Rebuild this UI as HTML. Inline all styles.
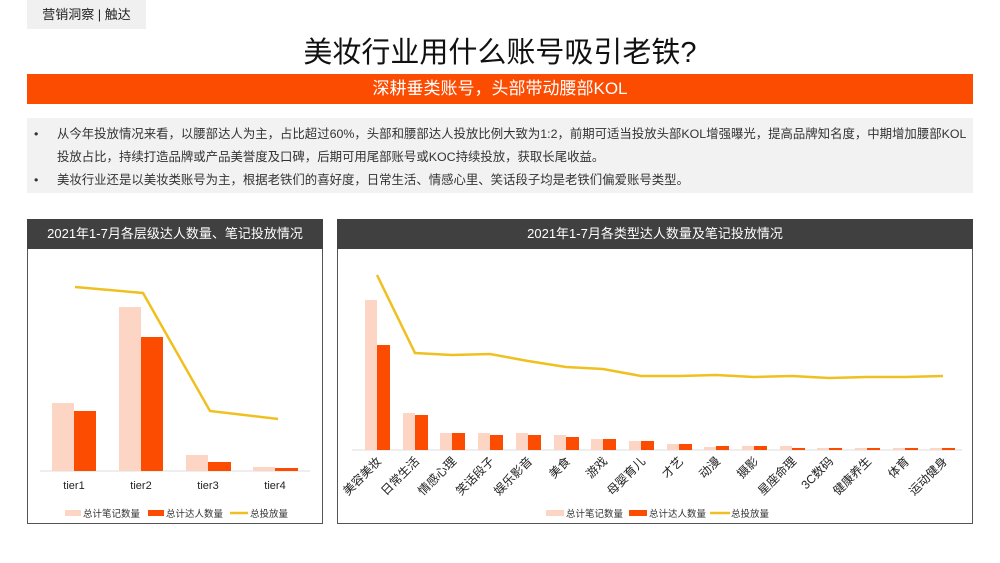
<!DOCTYPE html>
<html><head><meta charset="utf-8"><style>
body{margin:0;width:1000px;height:563px;background:#fff;font-family:"Liberation Sans","Noto Sans CJK SC",sans-serif;position:relative;overflow:hidden}
.a{position:absolute}
</style></head><body>
<div class="a" style="left:27px;top:0;width:119px;height:29px;background:#f0f0f0;font-size:13px;line-height:29px;text-align:center;color:#222">营销洞察 | 触达</div>
<div class="a" style="left:0;top:34px;width:1000px;text-align:center;font-size:29px;color:#111;line-height:38px">美妆行业用什么账号吸引老铁?</div>
<div class="a" style="left:27px;top:74px;width:946px;height:30px;background:#fc4c02;color:#fff;text-align:center;font-size:17px;line-height:30px">深耕垂类账号，头部带动腰部KOL</div>
<div class="a" style="left:27px;top:118px;width:946px;height:75px;background:#f2f2f2;font-size:12.4px;color:#333;line-height:23px">
<div class="a" style="left:7px;top:5px">•</div>
<div class="a" style="left:30px;top:5px;width:930px;white-space:nowrap">从今年投放情况来看，以腰部达人为主，占比超过60%，头部和腰部达人投放比例大致为1:2，前期可适当投放头部KOL增强曝光，提高品牌知名度，中期增加腰部KOL<br>投放占比，持续打造品牌或产品美誉度及口碑，后期可用尾部账号或KOC持续投放，获取长尾收益。</div>
<div class="a" style="left:7px;top:51px">•</div>
<div class="a" style="left:30px;top:51px;white-space:nowrap">美妆行业还是以美妆类账号为主，根据老铁们的喜好度，日常生活、情感心里、笑话段子均是老铁们偏爱账号类型。</div>
</div>
<div class="a" style="left:27px;top:219px;width:294px;height:303px;border:1px solid #555"></div>
<div class="a" style="left:27px;top:219px;width:296px;height:30px;background:#404040;color:#fff;text-align:center;font-size:13px;line-height:30px">2021年1-7月各层级达人数量、笔记投放情况</div>
<div class="a" style="left:337px;top:219px;width:634px;height:303px;border:1px solid #555"></div>
<div class="a" style="left:337px;top:219px;width:636px;height:30px;background:#404040;color:#fff;text-align:center;font-size:13px;line-height:30px">2021年1-7月各类型达人数量及笔记投放情况</div>
<svg class="a" style="left:0;top:0" width="1000" height="563" font-family="Liberation Sans, Noto Sans CJK SC, sans-serif">
<line x1="40" y1="471" x2="310" y2="471" stroke="#ddd"/>
<g fill="#fcd5c5"><rect x="52" y="403" width="22" height="68"/><rect x="119" y="307" width="22" height="164"/><rect x="186" y="455" width="22" height="16"/><rect x="253" y="467" width="22" height="4"/></g>
<g fill="#fc4c02"><rect x="74" y="411" width="22" height="60"/><rect x="141" y="337" width="22" height="134"/><rect x="208" y="462" width="23" height="9"/><rect x="275" y="468" width="23" height="3"/></g>
<polyline points="75,287 143,293 210,411 278,419" fill="none" stroke="#f0c020" stroke-width="2.5"/>
<g font-size="11" fill="#222" text-anchor="middle"><text x="74" y="489">tier1</text><text x="141" y="489">tier2</text><text x="208" y="489">tier3</text><text x="275" y="489">tier4</text></g>
<g font-size="9.5" fill="#333"><rect x="65" y="510" width="16" height="6" fill="#fcd5c5"/><text x="83" y="517">总计笔记数量</text>
<rect x="148" y="510" width="16" height="6" fill="#fc4c02"/><text x="166" y="517">总计达人数量</text>
<line x1="230" y1="513" x2="248" y2="513" stroke="#f0c020" stroke-width="2.5"/><text x="250" y="517">总投放量</text></g>
<line x1="352" y1="450" x2="962" y2="450" stroke="#ddd"/>
<g fill="#fcd5c5">
<rect x="365" y="300" width="12" height="150"/><rect x="403" y="413" width="12" height="37"/><rect x="440" y="433" width="12" height="17"/><rect x="478" y="433" width="12" height="17"/><rect x="516" y="433" width="12" height="17"/><rect x="554" y="435" width="12" height="15"/><rect x="591" y="439" width="12" height="11"/><rect x="629" y="441" width="12" height="9"/><rect x="667" y="444" width="12" height="6"/><rect x="704" y="447" width="12" height="3"/><rect x="742" y="446" width="12" height="4"/><rect x="780" y="446" width="12" height="4"/><rect x="817" y="448" width="12" height="2"/><rect x="855" y="448" width="12" height="2"/><rect x="893" y="448" width="12" height="2"/><rect x="930" y="448" width="12" height="2"/></g>
<g fill="#fc4c02">
<rect x="377" y="345" width="13" height="105"/><rect x="415" y="415" width="13" height="35"/><rect x="452" y="433" width="13" height="17"/><rect x="490" y="435" width="13" height="15"/><rect x="528" y="435" width="13" height="15"/><rect x="566" y="437" width="13" height="13"/><rect x="603" y="439" width="13" height="11"/><rect x="641" y="441" width="13" height="9"/><rect x="679" y="444" width="13" height="6"/><rect x="716" y="446" width="13" height="4"/><rect x="754" y="446" width="13" height="4"/><rect x="792" y="448" width="13" height="2"/><rect x="829" y="448" width="13" height="2"/><rect x="867" y="448" width="13" height="2"/><rect x="905" y="448" width="13" height="2"/><rect x="942" y="448" width="13" height="2"/></g>
<polyline points="377,275 415,353 452,355 490,354 528,361 566,367 603,369 641,376 679,376 716,375 754,377 792,376 829,378 867,377 905,377 943,376" fill="none" stroke="#f0c020" stroke-width="2.5"/>
<g font-size="12" fill="#222" text-anchor="end">
<text transform="translate(382,462) rotate(-45)">美容美妆</text><text transform="translate(420,462) rotate(-45)">日常生活</text><text transform="translate(457,462) rotate(-45)">情感心理</text><text transform="translate(495,462) rotate(-45)">笑话段子</text><text transform="translate(533,462) rotate(-45)">娱乐影音</text><text transform="translate(571,462) rotate(-45)">美食</text><text transform="translate(608,462) rotate(-45)">游戏</text><text transform="translate(646,462) rotate(-45)">母婴育儿</text><text transform="translate(684,462) rotate(-45)">才艺</text><text transform="translate(721,462) rotate(-45)">动漫</text><text transform="translate(759,462) rotate(-45)">摄影</text><text transform="translate(797,462) rotate(-45)">星座命理</text><text transform="translate(834,462) rotate(-45)">3C数码</text><text transform="translate(872,462) rotate(-45)">健康养生</text><text transform="translate(910,462) rotate(-45)">体育</text><text transform="translate(948,462) rotate(-45)">运动健身</text></g>
<g font-size="9.5" fill="#333"><rect x="546" y="510" width="18" height="6" fill="#fcd5c5"/><text x="566" y="517">总计笔记数量</text>
<rect x="629" y="510" width="18" height="6" fill="#fc4c02"/><text x="649" y="517">总计达人数量</text>
<line x1="710" y1="513" x2="730" y2="513" stroke="#f0c020" stroke-width="2.5"/><text x="731" y="517">总投放量</text></g>
</svg>
</body></html>
